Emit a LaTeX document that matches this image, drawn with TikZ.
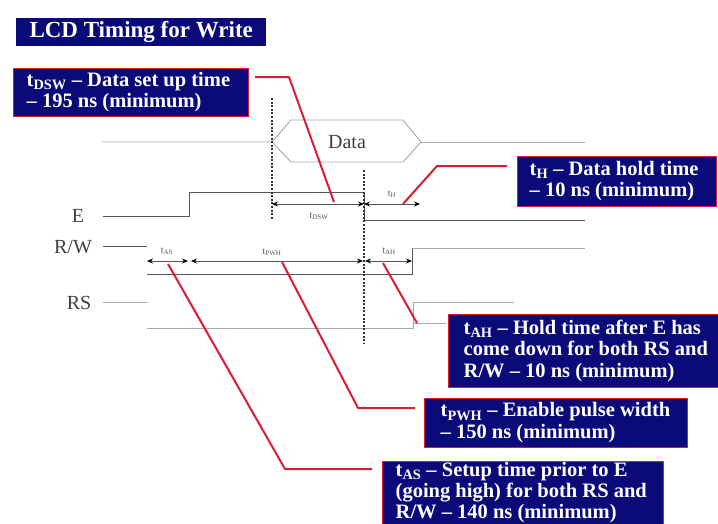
\documentclass[tikz,border=0pt]{standalone}
\usepackage{fontspec}
\setmainfont{Liberation Serif}
\usetikzlibrary{arrows.meta}
\definecolor{boxblue}{HTML}{0A0A78}
\definecolor{leadred}{HTML}{D81E32}
\definecolor{sigdark}{HTML}{555555}
\definecolor{siglight}{HTML}{A8A8A8}
\tikzset{
  infobox/.style={draw=leadred,line width=1.4pt,fill=boxblue,anchor=north west,inner sep=0pt},
  infotext/.style={text=white,font=\fontsize{20.5}{21.3}\selectfont\bfseries,anchor=west,align=left,inner sep=0pt},
  leader/.style={draw=leadred,line width=2pt,line join=round},
  sigline/.style={draw=sigdark,line width=1pt},
  faintline/.style={draw=siglight,line width=0.9pt},
  markline/.style={draw=black!80,line width=1.5pt,dash pattern=on 2pt off 1.6pt},
  span/.style={draw=sigdark,line width=0.8pt,{Stealth[length=6pt,width=5pt,color=black]}-{Stealth[length=6pt,width=5pt,color=black]}},
  siglabel/.style={font=\fontsize{20}{22}\selectfont,text=black!75,inner sep=0pt},
  spanlabel/.style={font=\fontsize{10}{11}\selectfont,text=black!65,inner sep=0pt}
}
\begin{document}
\begin{tikzpicture}[x=1pt,y=-1pt,line cap=butt,line join=miter]
  \useasboundingbox[fill=white] (0,0) rectangle (718,523);
  % signal corners
  \coordinate (DataL) at (102,142);
  \coordinate (DataA) at (272,142);
  \coordinate (DataB) at (421,142);
  \coordinate (DataR) at (585,142);
  \coordinate (EL) at (103,216);
  \coordinate (EU) at (189,216);
  \coordinate (EV) at (189,192);
  \coordinate (EW) at (364,192);
  \coordinate (EX) at (364,220);
  \coordinate (ER) at (585,220);
  \coordinate (RWL) at (103,246);
  \coordinate (RWM) at (147,246);
  \coordinate (RWN) at (147,274);
  \coordinate (RWP) at (412,274);
  \coordinate (RWQ) at (412,248);
  \coordinate (RWR) at (585,248);
  \coordinate (RSL) at (103,302);
  \coordinate (RSM) at (147,302);
  \coordinate (RSN) at (147,328);
  \coordinate (RSP) at (413,328);
  \coordinate (RSQ) at (413,302);
  \coordinate (RSR) at (514,302);
  \coordinate (RSS) at (413,323);
  \coordinate (RST) at (446,323);
  % the signals
  \draw[faintline] (DataL) -- (DataA) -- (291,120) -- (403,120) -- (DataB) -- (403,162) -- (291,162) -- (DataA);
  \draw[faintline] (DataB) -- (DataR);
  \draw[sigline] (EL) -- (EU) -- (EV) -- (EW) -- (EX) -- (ER);
  \draw[sigline] (RWL) -- (RWM);
  \draw[sigline] (RWN) -- (RWP) -- (RWQ);
  \draw[faintline] (RWQ) -- (RWR);
  \draw[faintline] (RSL) -- (RSM);
  \draw[faintline] (RSN) -- (RSP) -- (RSQ) -- (RSR);
  \draw[faintline] (RSS) -- (RST);
  % the two marks
  \coordinate (MarkAT) at (272,98);
  \coordinate (MarkAB) at (272,220);
  \coordinate (MarkBT) at (364,170);
  \coordinate (MarkBB) at (364,343);
  \draw[markline] (MarkAT) -- (MarkAB);
  \draw[markline] (MarkBT) -- (MarkBB);
  % spans
  \coordinate (SpanA) at (272,204);
  \coordinate (SpanB) at (364,204);
  \coordinate (SpanC) at (420,204);
  \coordinate (SpanD) at (147,261);
  \coordinate (SpanE) at (188,261);
  \coordinate (SpanF) at (191,261);
  \coordinate (SpanG) at (363,261);
  \coordinate (SpanH) at (365,261);
  \coordinate (SpanI) at (412,261);
  \draw[span] (SpanA) -- (SpanB);
  \draw[span] (SpanB) -- (SpanC);
  \draw[span] (SpanD) -- (SpanE);
  \draw[span] (SpanF) -- (SpanG);
  \draw[span] (SpanH) -- (SpanI);
  \node[spanlabel] (lDSW) at (319,216) {t\textsubscript{DSW}};
  \node[spanlabel] (lH) at (392,194) {t\textsubscript{H}};
  \node[spanlabel] (lAS) at (167,251) {t\textsubscript{AS}};
  \node[spanlabel] (lPWH) at (272,252) {t\textsubscript{PWH}};
  \node[spanlabel] (lAH) at (389,251) {t\textsubscript{AH}};
  % names
  \node[siglabel] (nE) at (78,216) {E};
  \node[siglabel] (nRW) at (73,247) {R/W};
  \node[siglabel] (nRS) at (79,303) {RS};
  \node[siglabel] (nData) at (347,142) {Data};
  % boxes
  \node[fill=boxblue,text=white,font=\fontsize{23}{26}\selectfont\bfseries,anchor=north west,minimum width=250pt,minimum height=28pt,inner sep=0pt] (title) at (16,18) {LCD Timing for Write};
  \node[infobox,minimum width=235pt,minimum height=48pt] (boxDSW) at (12.5,67.5) {};
  \node[infotext] (textDSW) at ([xshift=14pt]boxDSW.west) {t\textsubscript{DSW} -- Data set up time\\-- 195 ns (minimum)};
  \node[infobox,minimum width=199pt,minimum height=50pt] (boxH) at (516.5,155.5) {};
  \node[infotext] (textH) at ([xshift=13pt]boxH.west) {t\textsubscript{H} -- Data hold time\\-- 10 ns (minimum)};
  \node[infobox,minimum width=275pt,minimum height=73pt] (boxAH) at (447.5,313.5) {};
  \node[infotext] (textAH) at ([xshift=16pt]boxAH.west) {t\textsubscript{AH} -- Hold time after E has\\come down for both RS and\\R/W -- 10 ns (minimum)};
  \node[infobox,minimum width=263pt,minimum height=49pt] (boxPWH) at (423.5,397.5) {};
  \node[infotext] (textPWH) at ([xshift=17pt]boxPWH.west) {t\textsubscript{PWH} -- Enable pulse width\\-- 150 ns (minimum)};
  \node[infobox,minimum width=281pt,minimum height=68pt] (boxAS) at (381.5,460.5) {};
  \node[infotext] (textAS) at ([xshift=14pt,yshift=2.5pt]boxAS.west) {t\textsubscript{AS} -- Setup time prior to E\\(going high) for both RS and\\R/W -- 140 ns (minimum)};
  % leaders
  \coordinate (FootDSW) at (334,202);
  \coordinate (FootH) at (403,204);
  \coordinate (FootAS) at (168,264);
  \coordinate (FootPWH) at (282,262);
  \coordinate (FootAH) at (383,263);
  \coordinate (EndDSW) at (255,77);
  \coordinate (EndH) at (507,166);
  \coordinate (EndPWH) at (415,408);
  \coordinate (EndAS) at (372,469);
  \coordinate (EndAH) at (417,323);
  \draw[leader] (EndDSW) -- (289,77) -- (FootDSW);
  \draw[leader] (EndH) -- (437,166) -- (FootH);
  \draw[leader] (FootAS) -- (285,469) -- (EndAS);
  \draw[leader] (FootPWH) -- (358,408) -- (EndPWH);
  \draw[leader] (FootAH) -- (EndAH);
\end{tikzpicture}
\end{document}
